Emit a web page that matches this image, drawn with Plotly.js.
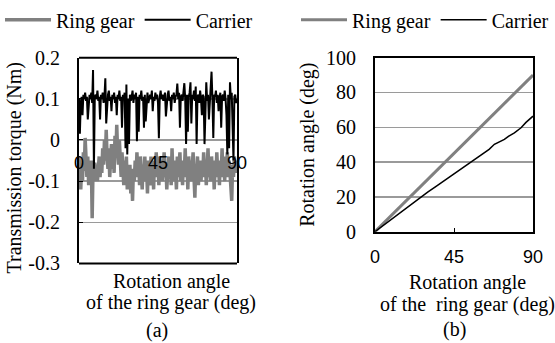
<!DOCTYPE html>
<html><head><meta charset="utf-8">
<script src="https://cdn.plot.ly/plotly-3.0.1.min.js"></script>
<style>html,body{margin:0;padding:0;background:#fff}#chart{width:555px;height:343px}</style>
</head><body><div id="chart"></div>
<script>
// ---- Panel (a): transmission torque vs ring-gear rotation angle ----
const angleA = [
 0,0.5,1,1.5,2,2.5,3,3.5,4,4.5, 5,5.5,6,6.5,7,7.5,8,8.5,9,9.5,
 10,10.5,11,11.5,12,12.5,13,13.5,14,14.5, 15,15.5,16,16.5,17,17.5,18,18.5,19,19.5,
 20,20.5,21,21.5,22,22.5,23,23.5,24,24.5, 25,25.5,26,26.5,27,27.5,28,28.5,29,29.5,
 30,30.5,31,31.5,32,32.5,33,33.5,34,34.5, 35,35.5,36,36.5,37,37.5,38,38.5,39,39.5,
 40,40.5,41,41.5,42,42.5,43,43.5,44,44.5, 45,45.5,46,46.5,47,47.5,48,48.5,49,49.5,
 50,50.5,51,51.5,52,52.5,53,53.5,54,54.5, 55,55.5,56,56.5,57,57.5,58,58.5,59,59.5,
 60,60.5,61,61.5,62,62.5,63,63.5,64,64.5, 65,65.5,66,66.5,67,67.5,68,68.5,69,69.5,
 70,70.5,71,71.5,72,72.5,73,73.5,74,74.5, 75,75.5,76,76.5,77,77.5,78,78.5,79,79.5,
 80,80.5,81,81.5,82,82.5,83,83.5,84,84.5, 85,85.5,86,86.5,87,87.5,88,88.5,89,89.5,
 90];
const ringTorque = [
 -0.04,-0.08,-0.12,-0.06,-0.10,-0.03,-0.075,0.005,-0.05,-0.09, -0.04,-0.11,-0.06,-0.09,-0.05,-0.19,-0.07,-0.10,-0.055,-0.085,
 -0.06,-0.10,-0.07,-0.04,-0.09,-0.05,-0.08,-0.02,-0.06,0.0, -0.05,0.025,-0.04,-0.07,-0.02,-0.09,-0.05,-0.01,-0.07,-0.03,
 -0.08,0.01,-0.04,0.037,-0.03,-0.06,0.0,-0.05,-0.09,-0.03, -0.07,-0.11,-0.05,-0.09,-0.04,-0.12,-0.07,-0.10,-0.06,-0.13,
 -0.08,-0.148,-0.07,-0.10,-0.05,-0.09,-0.03,-0.08,-0.06,-0.11, -0.04,-0.08,-0.12,-0.06,-0.09,-0.04,-0.10,-0.07,-0.13,-0.05,
 -0.08,-0.11,-0.04,-0.09,-0.06,-0.12,-0.05,-0.08,-0.03,-0.09, -0.06,-0.11,-0.04,-0.08,-0.05,-0.10,-0.07,-0.03,-0.09,-0.06,
 -0.12,-0.07,-0.04,-0.09,-0.06,-0.11,-0.02,-0.08,-0.05,-0.10, -0.07,-0.12,-0.04,-0.09,-0.06,-0.03,-0.10,-0.07,-0.11,-0.05,
 -0.08,-0.02,-0.09,-0.06,-0.12,-0.04,-0.08,-0.05,-0.10,-0.07, -0.03,-0.09,-0.14,-0.06,-0.08,-0.04,-0.11,-0.07,-0.05,-0.10,
 -0.06,-0.09,-0.03,-0.08,-0.05,-0.11,-0.07,-0.02,-0.09,-0.06, -0.10,-0.04,-0.08,-0.05,-0.12,-0.07,-0.09,-0.03,-0.08,-0.06,
 -0.11,-0.05,-0.08,-0.02,-0.09,-0.06,-0.10,-0.04,-0.07,-0.03, -0.09,-0.05,-0.08,-0.11,-0.148,-0.06,-0.09,-0.04,-0.07,-0.05,
 -0.08];
const carrierTorque = [
 0.10,0.015,0.09,0.105,0.06,0.11,0.10,0.115,0.095,0.105, 0.05,0.10,0.11,0.10,0.115,0.09,0.17,-0.07,0.105,0.11,
 0.10,0.12,0.095,0.105,0.05,0.11,0.10,0.115,0.09,0.105, 0.15,0.04,0.10,0.11,0.12,0.095,0.105,0.07,0.11,0.10,
 0.115,0.09,0.105,0.06,0.11,0.10,0.12,0.095,0.105,0.03, 0.11,0.10,0.115,-0.02,0.135,-0.035,0.10,-0.01,0.11,0.095,
 0.105,0.12,0.09,0.11,0.10,0.115,-0.003,0.105,0.02,0.11, 0.10,0.12,0.095,0.105,0.03,0.11,0.045,0.10,0.115,0.09,
 0.105,0.11,0.10,0.12,0.07,0.105,0.095,0.115,0.10,0.11, 0.09,0.004,0.105,0.12,0.10,0.11,0.095,0.105,0.115,0.057,
 0.10,0.11,0.12,0.095,0.105,0.07,0.11,0.10,0.115,0.09, 0.105,0.11,0.137,0.10,0.115,0.03,0.105,0.11,0.095,0.12,
 0.138,0.10,-0.01,0.11,0.02,0.105,0.115,0.14,0.04,0.11, 0.10,0.12,0.095,0.13,-0.01,0.105,0.11,0.09,0.12,0.10,
 0.06,0.11,0.105,-0.01,0.115,0.14,0.095,0.11,0.05,0.10, 0.12,0.166,0.10,0.005,0.11,0.105,0.12,0.09,0.11,0.07,
 0.10,0.115,0.03,0.105,0.11,0.095,0.12,0.10,0.06,-0.035, 0.11,-0.02,0.14,0.10,0.115,0.04,-0.05,0.105,0.11,0.09,
 0.10];
const torqueTickVals = [0.2, 0.1, 0, -0.1, -0.2, -0.3];
const torqueTickText = ["0.2", "0.1", "0", "-0.1", "-0.2", "-0.3"];

// ---- Panel (b): rotation angles vs ring-gear rotation angle ----
const ringAngleX = [0, 15, 30, 45, 60, 75, 90];
const ringAngleY = [0, 15, 30, 45, 60, 75, 90];
const carrierAngleX = [0, 5, 10, 15, 20, 26.2, 30, 35, 40, 45.2, 50, 54.7, 58, 62.3, 65, 68, 70, 73.7, 76, 79.4, 83.2, 86, 90];
const carrierAngleY = [0, 3.8, 7.6, 11.5, 15.3, 20.2, 22.7, 26.2, 29.8, 33.4, 36.9, 40, 42.4, 45.4, 47.3, 50.2, 51.2, 53, 54.8, 56.8, 59.7, 62.8, 66.4];
const angleTickVals = [0, 45, 90];
const angleTickText = ["0", "45", "90"];

const serif = "Liberation Serif";
const sans = "Liberation Sans";
const grayLine = "#808080";
const gridGray = "#9a9a9a";

const W = 555, H = 343;
const px = v => v / W, py = v => 1 - v / H;
const yDomA = [py(263), py(56)];
const yDomB = [py(231), py(56)];
const zeroPos = yDomA[0] + (0 - (-0.3)) / 0.5 * (yDomA[1] - yDomA[0]);

const traces = [
  {x: angleA, y: ringTorque, name: "Ring gear", type: "scatter", mode: "lines",
   line: {color: grayLine, width: 3.5}, xaxis: "x", yaxis: "y", legend: "legend"},
  {x: angleA, y: carrierTorque, name: "Carrier", type: "scatter", mode: "lines",
   line: {color: "#000", width: 2}, xaxis: "x", yaxis: "y", legend: "legend"},
  {x: ringAngleX, y: ringAngleY, name: "Ring gear", type: "scatter", mode: "lines",
   line: {color: grayLine, width: 3}, xaxis: "x2", yaxis: "y2", legend: "legend2"},
  {x: carrierAngleX, y: carrierAngleY, name: "Carrier", type: "scatter", mode: "lines",
   line: {color: "#000", width: 1.5}, xaxis: "x2", yaxis: "y2", legend: "legend2"}
];

const legendCommon = {orientation: "h", font: {family: serif, size: 20, color: "#000"},
  bgcolor: "rgba(0,0,0,0)", borderwidth: 0, itemwidth: 46, yanchor: "top", xanchor: "left",
  traceorder: "normal", itemclick: false};

const layout = {
  width: W, height: H,
  margin: {l: 0, r: 0, t: 0, b: 0},
  paper_bgcolor: "#fff", plot_bgcolor: "#fff",
  font: {family: serif, size: 20, color: "#000"},
  showlegend: true,
  legend: Object.assign({}, legendCommon, {x: 0, y: 1.005}),
  legend2: Object.assign({}, legendCommon, {x: px(296), y: 1.005}),
  xaxis: {domain: [px(79), px(237)], range: [0, 90], anchor: "free", position: zeroPos,
    tickvals: angleTickVals, ticktext: angleTickText, ticks: "", showgrid: false, zeroline: false,
    showline: false, tickfont: {family: sans, size: 18, color: "#000"}, ticklabelstandoff: 10},
  yaxis: {domain: yDomA, range: [-0.3, 0.2], anchor: "x",
    tickvals: torqueTickVals, ticktext: torqueTickText, ticks: "inside", ticklen: 4, tickcolor: "#000",
    showgrid: true, gridcolor: gridGray, gridwidth: 1.5, zeroline: true, zerolinecolor: gridGray, zerolinewidth: 1.5,
    showline: true, mirror: true, linecolor: "#000", linewidth: 2,
    tickfont: {family: serif, size: 20, color: "#000"}, ticklabelstandoff: 13},
  xaxis2: {domain: [px(375), px(533)], range: [0, 90], anchor: "y2",
    tickvals: angleTickVals, ticktext: angleTickText, ticks: "inside", ticklen: 4, tickcolor: "#000",
    showgrid: false, zeroline: false, showline: true, mirror: true, linecolor: "#000", linewidth: 2,
    tickfont: {family: sans, size: 18, color: "#000"}, ticklabelstandoff: 8},
  yaxis2: {domain: yDomB, range: [0, 100], anchor: "x2", dtick: 20, ticks: "",
    showgrid: true, gridcolor: gridGray, gridwidth: 1.5, zeroline: false,
    showline: true, mirror: true, linecolor: "#000", linewidth: 2,
    tickfont: {family: serif, size: 20, color: "#000"}, ticklabelstandoff: 13,
    title: {text: "Rotation angle (deg)", font: {family: serif, size: 20, color: "#000"}, standoff: 6}},
  shapes: [
    {type: "line", xref: "x domain", yref: "y domain", x0: 0, x1: 1, y0: 0, y1: 0,
     line: {color: "#000", width: 2}, layer: "above"},
    {type: "line", xref: "x domain", yref: "y domain", x0: 0, x1: 1, y0: 1, y1: 1,
     line: {color: "#000", width: 2}, layer: "above"}
  ],
  annotations: [
    {text: "Transmission torque (Nm)", textangle: -90, xref: "paper", yref: "paper",
     x: px(15), y: py(167.5), xanchor: "center", yanchor: "middle", showarrow: false,
     font: {family: serif, size: 20, color: "#000"}},
    {text: "Rotation angle", xref: "paper", yref: "paper", x: px(171), y: py(281),
     xanchor: "center", yanchor: "middle", showarrow: false, font: {family: serif, size: 20, color: "#000"}},
    {text: "of the ring gear (deg)", xref: "paper", yref: "paper", x: px(171), y: py(302),
     xanchor: "center", yanchor: "middle", showarrow: false, font: {family: serif, size: 20, color: "#000"}},
    {text: "(a)", xref: "paper", yref: "paper", x: px(157), y: py(330),
     xanchor: "center", yanchor: "middle", showarrow: false, font: {family: serif, size: 20, color: "#000"}},
    {text: "Rotation angle", xref: "paper", yref: "paper", x: px(467), y: py(282),
     xanchor: "center", yanchor: "middle", showarrow: false, font: {family: serif, size: 20, color: "#000"}},
    {text: "of the  ring gear (deg)", xref: "paper", yref: "paper", x: px(467), y: py(304),
     xanchor: "center", yanchor: "middle", showarrow: false, font: {family: serif, size: 20, color: "#000"}},
    {text: "(b)", xref: "paper", yref: "paper", x: px(454), y: py(329),
     xanchor: "center", yanchor: "middle", showarrow: false, font: {family: serif, size: 20, color: "#000"}}
  ]
};

Plotly.newPlot("chart", traces, layout, {staticPlot: true, displayModeBar: false});
</script></body></html>
